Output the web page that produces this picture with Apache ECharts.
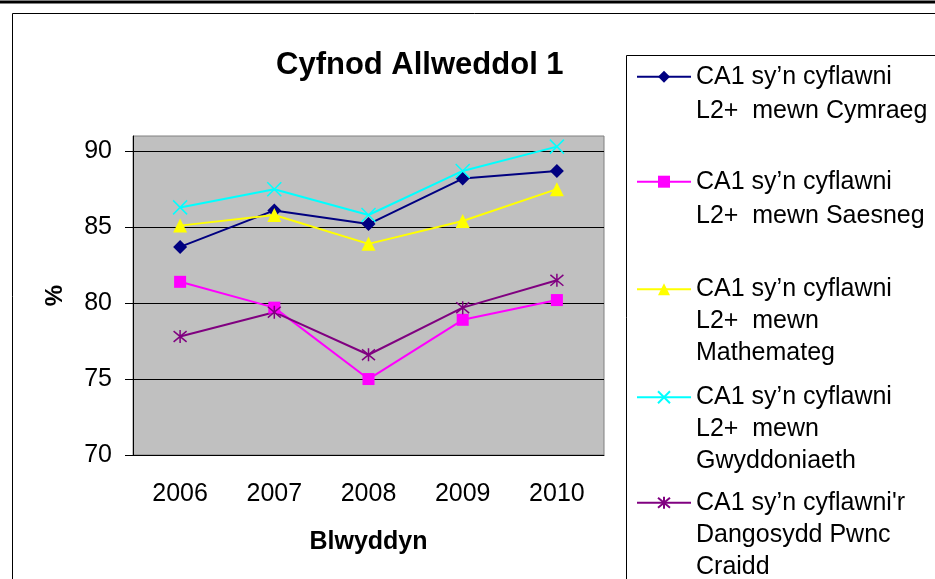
<!DOCTYPE html>
<html>
<head>
<meta charset="UTF-8" />
<script type="text/javascript" src="https://cdn.jsdelivr.net/npm/echarts@6/dist/echarts.min.js"></script>
<style>
  html, body { margin: 0; padding: 0; background: #fff; }
</style>
</head>
<body>
<div id="chartmain" style="width: 935px; height: 579px;"></div>
<script type="text/javascript">
// data
var years = ['2006', '2007', '2008', '2009', '2010'];
var cymraeg = [83.7, 86.1, 85.2, 88.2, 88.7];
var saesneg = [81.4, 79.7, 75.0, 78.9, 80.2];
var mathemateg = [85.1, 85.8, 83.9, 85.4, 87.5];
var gwyddoniaeth = [86.3, 87.5, 85.8, 88.7, 90.3];
var dangosydd = [77.8, 79.4, 76.6, 79.7, 81.5];
var yTicks = [70, 75, 80, 85, 90];

var names = [
  'CA1 sy\u2019n cyflawni\nL2+  mewn Cymraeg',
  'CA1 sy\u2019n cyflawni\nL2+  mewn Saesneg',
  'CA1 sy\u2019n cyflawni\nL2+  mewn\nMathemateg',
  'CA1 sy\u2019n cyflawni\nL2+  mewn\nGwyddoniaeth',
  'CA1 sy\u2019n cyflawni\'r\nDangosydd Pwnc\nCraidd'
];

var FONT = '"Liberation Sans", Arial, sans-serif';
var crossPath = 'path://M0,0L10,10M10,0L0,10';
var starPath = 'path://M0,0L10,10M10,0L0,10M5,-1L5,11';

// legend: one component per entry; blank lines above the text put the
// marker (which is centred on the text block) on the first text line
var legendFirstLine = [76.7, 181.7, 289.3, 397.3, 502.7];
var legendLh = [34, 34, 32, 32, 32];
var legends = names.map(function (n, i) {
  var lines = n.split('\n').length;
  var lh = legendLh[i];
  return {
    data: [n],
    orient: 'vertical',
    left: 636,
    top: legendFirstLine[i] - (lines - 0.5) * lh,
    padding: 0,
    itemWidth: 54,
    itemHeight: 15,
    selectedMode: false,
    formatter: function (name) {
      return new Array(lines).join('\n') + name;
    },
    textStyle: {
      fontFamily: FONT,
      fontSize: 25,
      color: '#000',
      lineHeight: lh
    }
  };
});

function makeSeries(name, data, color, symbol, size, stroke) {
  return {
    name: name,
    type: 'line',
    data: data,
    symbol: symbol,
    symbolSize: size,
    lineStyle: { color: color, width: 2 },
    itemStyle: stroke ? { color: color, borderColor: color, borderWidth: 1.5 } : { color: color },
    emphasis: { disabled: true },
    animation: false
  };
}

var option = {
  animation: false,
  title: {
    text: 'Cyfnod Allweddol 1',
    left: 276,
    top: 50,
    padding: 0,
    textStyle: { fontFamily: FONT, fontSize: 31, fontWeight: 'bold', color: '#000' }
  },
  legend: legends,
  grid: {
    left: 133,
    right: 331,
    top: 136,
    bottom: 124,
    show: true,
    backgroundColor: '#c0c0c0',
    borderColor: '#808080',
    borderWidth: 1
  },
  xAxis: {
    type: 'category',
    data: years,
    boundaryGap: true,
    name: 'Blwyddyn',
    nameLocation: 'middle',
    nameGap: 75,
    nameTextStyle: { fontFamily: FONT, fontSize: 25, fontWeight: 'bold', color: '#000' },
    axisLine: { lineStyle: { color: '#000', width: 1 } },
    axisTick: { length: 6, lineStyle: { color: '#000' } },
    axisLabel: { fontFamily: FONT, fontSize: 25, color: '#000', margin: 27 },
    splitLine: { show: false }
  },
  yAxis: {
    type: 'value',
    min: 70,
    max: 91,
    interval: 5,
    name: '%',
    nameLocation: 'middle',
    nameRotate: 90,
    nameGap: 66,
    nameTextStyle: { fontFamily: FONT, fontSize: 24, fontWeight: 'bold', color: '#000' },
    axisLine: { show: true, lineStyle: { color: '#000', width: 1 } },
    axisTick: { show: true, length: 8, customValues: yTicks, lineStyle: { color: '#000' } },
    axisLabel: { fontFamily: FONT, fontSize: 25, color: '#000', margin: 21, customValues: yTicks },
    splitLine: { show: true, lineStyle: { color: '#000', width: 1 } }
  },
  graphic: [
    { type: 'line', z: -10, shape: { x1: 0, y1: 2, x2: 935, y2: 2 }, style: { stroke: '#000', lineWidth: 3 } },
    { type: 'rect', z: -10, shape: { x: 12.5, y: 13.5, width: 1000, height: 700 }, style: { fill: 'none', stroke: '#000', lineWidth: 1 } },
    { type: 'rect', z: -10, shape: { x: 626.5, y: 55.5, width: 400, height: 600 }, style: { fill: 'none', stroke: '#000', lineWidth: 1 } }
  ],
  series: [
    makeSeries(names[0], cymraeg, '#000080', 'diamond', 14, false),
    makeSeries(names[1], saesneg, '#ff00ff', 'rect', 12, false),
    makeSeries(names[2], mathemateg, '#ffff00', 'triangle', 14, false),
    makeSeries(names[3], gwyddoniaeth, '#00ffff', crossPath, 14, true),
    makeSeries(names[4], dangosydd, '#800080', starPath, 13, true)
  ]
};

var myChart = echarts.init(document.getElementById('chartmain'));
myChart.setOption(option);
</script>
</body>
</html>
